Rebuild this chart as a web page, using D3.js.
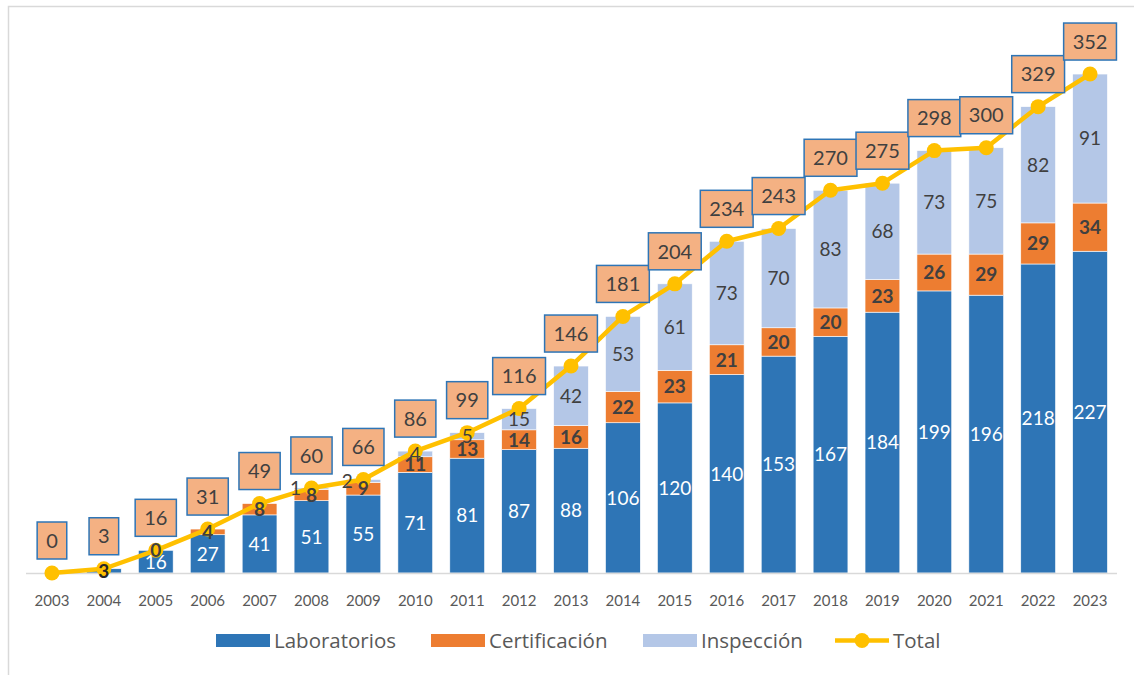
<!doctype html>
<html>
<head>
<meta charset="utf-8">
<style>
    body { margin: 0; background: #fff; }
    svg { font-family: Lato, "Open Sans", sans-serif; }
</style>
<script src="https://d3js.org/d3.v7.min.js"></script>
</head>
<body>
<svg width="1134" height="675"></svg>
<script>
// data
var years = ["2003","2004","2005","2006","2007","2008","2009","2010","2011","2012","2013",
             "2014","2015","2016","2017","2018","2019","2020","2021","2022","2023"];
var laboratorios = [0, 3, 16, 27, 41, 51, 55, 71, 81, 87, 88, 106, 120, 140, 153, 167, 184, 199, 196, 218, 227];
var certificacion = [null, null, 0, 4, 8, 8, 9, 11, 13, 14, 16, 22, 23, 21, 20, 20, 23, 26, 29, 29, 34];
var inspeccion = [null, null, null, null, null, 1, 2, 4, 5, 15, 42, 53, 61, 73, 70, 83, 68, 73, 75, 82, 91];
var total = [0, 3, 16, 31, 49, 60, 66, 86, 99, 116, 146, 181, 204, 234, 243, 270, 275, 298, 300, 329, 352];
var seriesNames = ["Laboratorios", "Certificación", "Inspección", "Total"];

var colors = ["#2E75B6", "#ED7D31", "#B4C7E7", "#FFC000"];

var svg = d3.select("svg");

// light frame (top + left edges visible)
svg.append("path")
   .attr("d", "M8.5,675 V6.5 H1134")
   .attr("fill", "none")
   .attr("stroke", "#d9d9d9")
   .attr("stroke-width", 1.5);

var x = d3.scaleBand().domain(years).range([26, 1116]).paddingInner(0.33).paddingOuter(0.165);
var y = d3.scaleLinear().domain([0, 400]).range([573, 6]);

var rows = years.map(function(yr, i) {
    return {
        year: yr,
        lab: laboratorios[i],
        cert: certificacion[i] || 0,
        insp: inspeccion[i] || 0,
        labRaw: laboratorios[i],
        certRaw: certificacion[i],
        inspRaw: inspeccion[i],
        total: total[i]
    };
});

var keys = ["lab", "cert", "insp"];
var stacked = d3.stack().keys(keys)(rows);

// bars
svg.append("g").selectAll("g")
   .data(stacked)
   .enter().append("g")
   .attr("fill", function(d, i) { return colors[i]; })
   .selectAll("rect")
   .data(function(d) { return d; })
   .enter().append("rect")
   .attr("x", function(d) { return x(d.data.year); })
   .attr("y", function(d) { return y(d[1]); })
   .attr("width", x.bandwidth())
   .attr("height", function(d) { return y(d[0]) - y(d[1]); })
   .attr("stroke", "#fff")
   .attr("stroke-width", 0.6);

// x axis
svg.append("line")
   .attr("x1", 26).attr("x2", 1117)
   .attr("y1", 573.5).attr("y2", 573.5)
   .attr("stroke", "#d9d9d9")
   .attr("stroke-width", 1.5);

svg.append("g").selectAll("text")
   .data(years)
   .enter().append("text")
   .attr("x", function(d) { return x(d) + x.bandwidth() / 2; })
   .attr("y", 606)
   .attr("text-anchor", "middle")
   .attr("font-size", "15px")
   .attr("fill", "#595959")
   .text(function(d) { return d; });

// total line
var cx = function(d) { return x(d.year) + x.bandwidth() / 2; };

svg.append("path")
   .datum(rows)
   .attr("fill", "none")
   .attr("stroke", colors[3])
   .attr("stroke-width", 4.5)
   .attr("stroke-linejoin", "round")
   .attr("d", d3.line().x(cx).y(function(d) { return y(d.total); }));

svg.append("g").selectAll("circle")
   .data(rows)
   .enter().append("circle")
   .attr("cx", cx)
   .attr("cy", function(d) { return y(d.total); })
   .attr("r", 7.5)
   .attr("fill", colors[3]);

// segment labels
var labLabels = svg.append("g");
rows.forEach(function(d) {
    var c = cx(d);
    if (d.labRaw > 0) {
        var small = d.labRaw < 10;
        labLabels.append("text")
           .attr("x", c)
           .attr("y", y(d.lab / 2))
           .attr("dy", "0.36em")
           .attr("text-anchor", "middle")
           .attr("font-size", "19px")
           .attr("font-weight", small ? "bold" : "normal")
           .attr("fill", small ? "#262626" : "#fff")
           .text(d.labRaw);
    }
    if (d.certRaw !== null) {
        labLabels.append("text")
           .attr("x", c)
           .attr("y", y(d.lab + d.cert / 2))
           .attr("dy", "0.36em")
           .attr("text-anchor", "middle")
           .attr("font-size", "19px")
           .attr("font-weight", "bold")
           .attr("fill", "#404040")
           .text(d.certRaw);
    }
    if (d.inspRaw !== null) {
        labLabels.append("text")
           .attr("x", d.inspRaw < 3 ? c - 16 : c)
           .attr("y", y(d.lab + d.cert + d.insp / 2))
           .attr("dy", "0.36em")
           .attr("text-anchor", "middle")
           .attr("font-size", "19px")
           .attr("fill", "#404040")
           .text(d.inspRaw);
    }
});

// total labels in boxes
var boxes = svg.append("g");
rows.forEach(function(d) {
    var c = cx(d), py = y(d.total);
    var g = boxes.append("g");
    var r = g.append("rect");
    var t = g.append("text")
       .attr("x", c)
       .attr("y", py - 14 - 18.5)
       .attr("dy", "0.36em")
       .attr("text-anchor", "middle")
       .attr("font-size", "20px")
       .attr("fill", "#404040")
       .text(d.total);
    var w = t.node().getComputedTextLength() + 18;
    r.attr("x", c - w / 2)
     .attr("y", py - 14 - 37)
     .attr("width", w)
     .attr("height", 37)
     .attr("fill", "#F4B183")
     .attr("stroke", "#2E75B6")
     .attr("stroke-width", 1.5);
});

// legend
var legendX = [216, 431, 643, 835];
var legend = svg.append("g");
seriesNames.forEach(function(name, i) {
    var lx = legendX[i];
    if (i < 3) {
        legend.append("rect")
           .attr("x", lx).attr("y", 634)
           .attr("width", 54).attr("height", 13)
           .attr("fill", colors[i]);
    } else {
        legend.append("line")
           .attr("x1", lx).attr("x2", lx + 54)
           .attr("y1", 640.5).attr("y2", 640.5)
           .attr("stroke", colors[3]).attr("stroke-width", 4.5);
        legend.append("circle")
           .attr("cx", lx + 27).attr("cy", 640.5).attr("r", 7.5)
           .attr("fill", colors[3]);
    }
    legend.append("text")
       .attr("x", lx + 58)
       .attr("y", 641)
       .attr("dy", "0.36em")
       .attr("font-family", "'Open Sans', sans-serif")
       .attr("font-size", "20.5px")
       .attr("fill", "#595959")
       .text(name);
});
</script>
</body>
</html>
